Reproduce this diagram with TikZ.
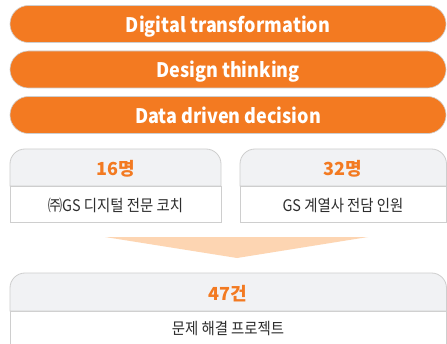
\documentclass[tikz,border=0pt]{standalone}
\usepackage{fontspec}
\setmainfont{Noto Sans CJK KR}
\newfontfamily\narrowfont{Noto Sans CJK KR}[FakeStretch=0.9]
\usepackage{tikz}

\definecolor{gsorange}{RGB}{243,122,33}
\definecolor{arrowpeach}{RGB}{253,213,178}
\definecolor{headgray}{RGB}{241,242,244}
\definecolor{linegray}{RGB}{206,206,206}
\definecolor{textgray}{RGB}{45,45,45}

\tikzset{
  pill/.style={fill=gsorange, draw=linegray, line width=0.6pt, rounded corners=18.5pt,
    minimum width=436pt, minimum height=37pt, text=white, text depth=0pt,
    font=\narrowfont\fontsize{20}{20}\selectfont\bfseries},
  headbox/.style={fill=headgray, draw=linegray, line width=0.8pt},
  bodybox/.style={fill=white, draw=linegray, line width=0.8pt},
  count/.style={text=gsorange, font=\fontsize{18}{18}\selectfont\bfseries},
  desc/.style={text=textgray, font=\narrowfont\fontsize{16}{16}\selectfont}
}

\begin{document}
\begin{tikzpicture}[x=1pt, y=1pt]
    \clip (0,0) rectangle (447,343);
    \fill[white] (0,0) rectangle (447,343);

    \node (dt) at (228,319) [pill] {Digital transformation};
    \node (dth) at (228,273.5) [pill] {Design thinking};
    \node (ddd) at (228,228) [pill] {Data driven decision};

    % the two people boxes
    \foreach \xa/\xb in {10/221, 240/446.5} {
      \filldraw[bodybox] (\xa,121) rectangle (\xb,157);
      \filldraw[headbox] (\xa,157) -- (\xa,179) arc[start angle=180, end angle=90, radius=15]
        -- (\xb-15,194) arc[start angle=90, end angle=0, radius=15] -- (\xb,157) -- cycle;
    }

    \node (c1) at (115.5,174) [count] {16명};
    \node (d1) at (115.5,137.5) [desc] {㈜GS 디지털 전문 코치};
    \node (c2) at (343,174) [count] {32명};
    \node (d2) at (343,137.5) [desc] {GS 계열사 전담 인원};

    \fill[arrowpeach] (105,106) -- (368,106) -- (237,85) -- cycle;

    % result box
    \filldraw[bodybox] (10,-5) rectangle (446.5,32);
    \filldraw[headbox] (10,32) -- (10,55) arc[start angle=180, end angle=90, radius=15]
      -- (431.5,70) arc[start angle=90, end angle=0, radius=15] -- (446.5,32) -- cycle;

    \node (c3) at (228,49.5) [count] {47건};
    \node (d3) at (228,14.5) [desc] {문제 해결 프로젝트};
\end{tikzpicture}
\end{document}
